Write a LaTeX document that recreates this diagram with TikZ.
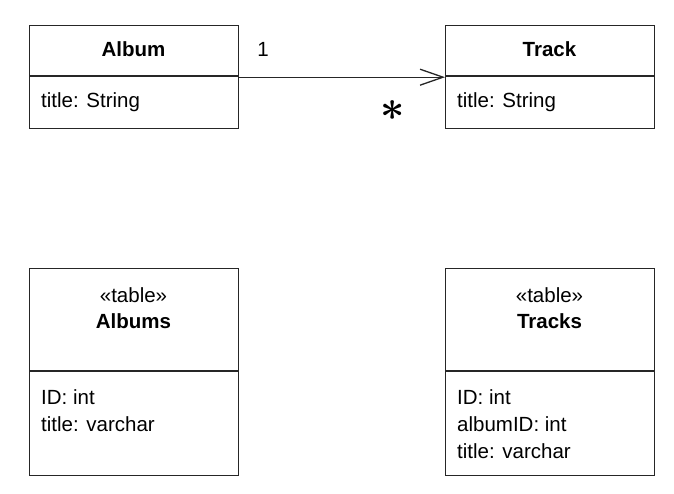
\documentclass[tikz,border=0pt]{standalone}
\usepackage{fontspec}
\setmainfont{Liberation Sans}
\usetikzlibrary{arrows.meta}
\begin{document}
\begin{tikzpicture}[x=1pt,y=-1pt,
  box/.style={draw=black!85,line width=1.4pt,minimum width=209pt,anchor=north west,inner sep=0pt},
  txt/.style={font=\fontsize{20.5}{24}\selectfont,inner sep=0pt},
  bold/.style={txt,font=\fontsize{20.5}{24}\selectfont\bfseries},
  divider/.style={draw=black!85,line width=1.4pt},
  assoc/.style={draw=black!85,line width=1.3pt,-{Straight Barb[length=23pt,width=16pt,line width=1.3pt]}}]
\useasboundingbox (0,0) rectangle (674,494);
% UML classes
\node[box,minimum height=103pt] (album) at (29,25) {};
\node[box,minimum height=103pt] (track) at (445,25) {};
\draw[divider] (29,76) coordinate (ad1) -- (238,76) coordinate (ad2);
\draw[divider] (445,76) coordinate (td1) -- (654,76) coordinate (td2);
\node[bold] (albumname) at (133.5,49) {Album};
\node[bold] (trackname) at (549.5,49) {Track};
\node[txt,anchor=west] (albumattr) at (41,102) {title: String};
\node[txt,anchor=west] (trackattr) at (457,102) {title: String};
% association
\draw[assoc] (album.east) -- (track.west);
\node[txt] (mult1) at (263,49) {1};
\node[inner sep=0pt,font=\fontsize{50}{50}\selectfont\boldmath] (multstar) at (392.5,110.5) {\scalebox{1.7}{$\ast$}};
% tables
\node[box,minimum height=207pt] (albums) at (29,268) {};
\node[box,minimum height=207pt] (tracks) at (445,268) {};
\draw[divider] (29,371) -- (238,371);
\draw[divider] (445,371) -- (654,371);
\node[txt] (st1) at (133.5,295) {«table»};
\node[bold] (albumsname) at (133.5,321) {Albums};
\node[txt] (st2) at (549.5,295) {«table»};
\node[bold] (tracksname) at (549.5,321) {Tracks};
\node[txt,anchor=west] (a1) at (41,397) {ID: int};
\node[txt,anchor=west] (a2) at (41,424) {title: varchar};
\node[txt,anchor=west] (t1) at (457,397) {ID: int};
\node[txt,anchor=west] (t2) at (457,424) {albumID: int};
\node[txt,anchor=west] (t3) at (457,451) {title: varchar};
\end{tikzpicture}
\end{document}
